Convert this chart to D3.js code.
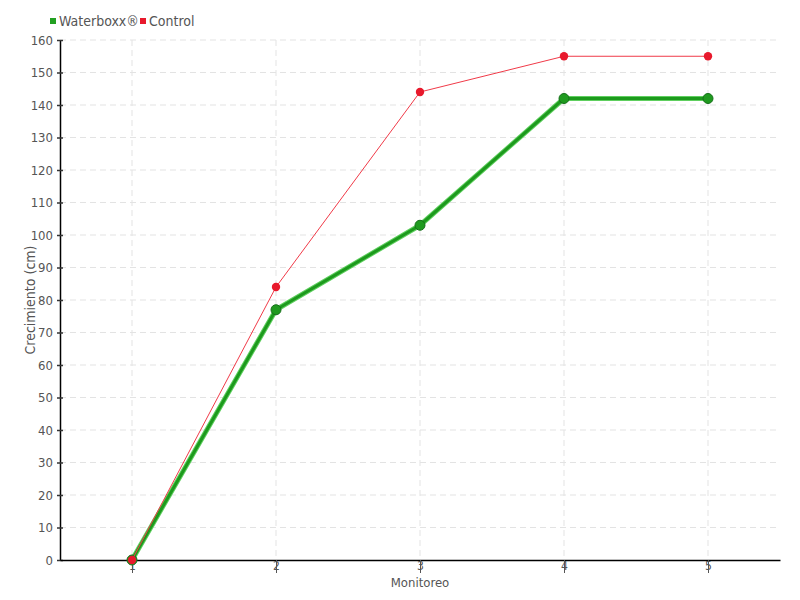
<!DOCTYPE html>
<html><head><meta charset="utf-8">
<script src="https://cdn.jsdelivr.net/npm/d3@7"></script>
<style>
body{margin:0;background:#fff;}
text{font-family:"DejaVu Sans Condensed","DejaVu Sans",sans-serif;fill:#555;}
</style></head><body>
<svg id="c" width="800" height="600"></svg>
<script>
const categories = ["1","2","3","4","5"];
const waterboxx = [0, 77, 103, 142, 142];
const control = [0, 84, 144, 155, 155];
const yTicks = [0,10,20,30,40,50,60,70,80,90,100,110,120,130,140,150,160];

const svg = d3.select("#c");
const m = {l:60, r:20, t:40, b:40};
const W = 800, H = 600;
const x = d3.scalePoint().domain(categories).range([m.l, W-m.r]).padding(0.5);
const y = d3.scaleLinear().domain([0,160]).range([H-m.b, m.t]);

// grid
const g = svg.append("g");
g.selectAll(".hg").data(yTicks.slice(1)).enter().append("line")
 .attr("x1", m.l).attr("x2", W-m.r).attr("y1", d=>y(d)).attr("y2", d=>y(d))
 .attr("stroke","#e3e3e3").attr("stroke-dasharray","6,4");
g.selectAll(".vg").data(categories).enter().append("line")
 .attr("x1", d=>x(d)).attr("x2", d=>x(d)).attr("y1", m.t).attr("y2", H-m.b)
 .attr("stroke","#e3e3e3").attr("stroke-dasharray","6,4");

// axes
const ya = svg.append("g").attr("transform",`translate(${m.l},0)`)
 .call(d3.axisLeft(y).tickValues(yTicks).tickSize(3).tickSizeOuter(0).tickPadding(4));
ya.select(".domain").attr("stroke","#000").attr("stroke-width",1.5);
ya.selectAll(".tick line").attr("stroke","#333").attr("stroke-width",1.5).attr("x2",-3).attr("x1",3);
ya.selectAll(".tick text").attr("font-size",13).style("fill","#555").attr("font-family",null);

const xa = svg.append("g").attr("transform",`translate(0,${H-m.b})`)
 .call(d3.axisBottom(x).tickSize(13).tickSizeOuter(0));
xa.select(".domain").attr("stroke","#000").attr("stroke-width",1.5);
xa.selectAll(".tick line").attr("stroke","#555");
xa.selectAll(".tick text").attr("font-size",12).style("fill","#555").attr("font-family",null)
 .attr("y",1).attr("dy","0.71em");

// axis titles
svg.append("text").attr("x", 420).attr("y", 587).attr("text-anchor","middle")
 .attr("font-size",13).text("Monitoreo");
svg.append("text").attr("transform","translate(35,300) rotate(-90)").attr("text-anchor","middle")
 .attr("font-size",14).text("Crecimiento (cm)");

const line = d3.line().x((d,i)=>x(categories[i])).y(d=>y(d));

// Waterboxx
svg.append("path").datum(waterboxx).attr("d",line).attr("fill","none")
 .attr("stroke","#5fcf5f").attr("stroke-width",5).attr("stroke-linejoin","round");
svg.append("path").datum(waterboxx).attr("d",line).attr("fill","none")
 .attr("stroke","#1d9a1d").attr("stroke-width",3).attr("stroke-linejoin","round");
svg.selectAll(".wp").data(waterboxx).enter().append("circle")
 .attr("cx",(d,i)=>x(categories[i])).attr("cy",d=>y(d)).attr("r",5)
 .attr("fill","#1f9a1f").attr("stroke","#16701a").attr("stroke-width",1);

// Control
svg.append("path").datum(control).attr("d",line).attr("fill","none")
 .attr("stroke","#f03a48").attr("stroke-width",1);
svg.selectAll(".cp").data(control).enter().append("circle")
 .attr("cx",(d,i)=>x(categories[i])).attr("cy",d=>y(d)).attr("r",4.2)
 .attr("fill","#e8192c");

// legend
const leg = [{n:"Waterboxx®", c:"#22a022", x:50},{n:"Control", c:"#e8192c", x:140}];
leg.forEach(l=>{
  svg.append("rect").attr("x",l.x).attr("y",18).attr("width",6).attr("height",6).attr("fill",l.c);
  svg.append("text").attr("x",l.x+9).attr("y",26).attr("font-size",14).text(l.n);
});
</script></body></html>
